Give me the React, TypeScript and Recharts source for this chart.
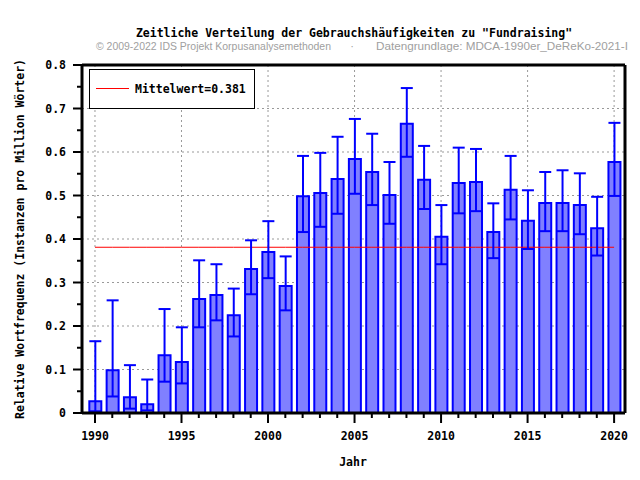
import React from "react";
import {
  Bar,
  CartesianGrid,
  ComposedChart,
  ErrorBar,
  Line,
  ReferenceLine,
  XAxis,
  YAxis,
} from "recharts";

// years shown on the x axis (one bar each)
const years = [
  1990, 1991, 1992, 1993, 1994, 1995, 1996, 1997, 1998, 1999, 2000, 2001, 2002,
  2003, 2004, 2005, 2006, 2007, 2008, 2009, 2010, 2011, 2012, 2013, 2014, 2015,
  2016, 2017, 2018, 2019, 2020,
];

// relative frequency per million words
const freq = [
  0.027, 0.098, 0.036, 0.02, 0.133, 0.117, 0.262, 0.271, 0.225, 0.331, 0.37,
  0.292, 0.498, 0.506, 0.538, 0.584, 0.554, 0.501, 0.665, 0.536, 0.405, 0.529,
  0.531, 0.416, 0.513, 0.442, 0.483, 0.483, 0.478, 0.425, 0.577,
];

// confidence interval bounds
const ciHigh = [
  0.165, 0.259, 0.11, 0.077, 0.239, 0.197, 0.351, 0.342, 0.286, 0.397, 0.441,
  0.36, 0.591, 0.598, 0.635, 0.676, 0.642, 0.577, 0.747, 0.614, 0.478, 0.61,
  0.607, 0.482, 0.591, 0.512, 0.554, 0.558, 0.551, 0.497, 0.667,
];
const ciLow = [
  0.004, 0.038, 0.01, 0.006, 0.072, 0.068, 0.197, 0.213, 0.176, 0.273, 0.31,
  0.236, 0.416, 0.428, 0.458, 0.504, 0.478, 0.435, 0.589, 0.469, 0.342, 0.459,
  0.464, 0.356, 0.445, 0.377, 0.418, 0.418, 0.411, 0.362, 0.499,
];

const meanValue = 0.381;

const majorYears = [1990, 1995, 2000, 2005, 2010, 2015, 2020];
const yTicks = [
  0, 0.05, 0.1, 0.15, 0.2, 0.25, 0.3, 0.35, 0.4, 0.45, 0.5, 0.55, 0.6, 0.65,
  0.7, 0.75, 0.8,
];
const yGrid = [0.1, 0.2, 0.3, 0.4, 0.5, 0.6, 0.7];

const xDomain = [1989.25, 2020.63];
const yDomain = [0, 0.8];

const data = years.map((year, i) => ({
  year,
  freq: freq[i],
  err: [freq[i] - ciLow[i], ciHigh[i] - freq[i]],
  mean: meanValue,
}));

const MONO = "'DejaVu Sans Mono', monospace";
const BLUE = "#0000ff";

const XTick = (props: any) => {
  const { x, y, payload } = props;
  const major = payload.value % 5 === 0;
  return (
    <g>
      <line x1={x} x2={x} y1={y} y2={y + (major ? 10 : 5)} stroke="#000" strokeWidth={2} />
      {major && (
        <text
          x={x}
          y={y + 27}
          textAnchor="middle"
          fontFamily={MONO}
          fontWeight="bold"
          fontSize={11.5}
          fill="#000"
        >
          {payload.value}
        </text>
      )}
    </g>
  );
};

const YTick = (props: any) => {
  const { x, y, payload } = props;
  const v = Math.round(payload.value * 100);
  const major = v % 10 === 0;
  return (
    <g>
      <line x1={x} x2={x - (major ? 9 : 5)} y1={y} y2={y} stroke="#000" strokeWidth={2} />
      {major && (
        <text
          x={x - 16}
          y={y + 4}
          textAnchor="end"
          fontFamily={MONO}
          fontWeight="bold"
          fontSize={11.5}
          fill="#000"
        >
          {v === 0 ? "0" : (v / 100).toFixed(1)}
        </text>
      )}
    </g>
  );
};

export default function App() {
  return (
    <div style={{ position: "absolute", left: 0, top: 0, width: 640, height: 480, background: "#fff" }}>
      <ComposedChart
        width={640}
        height={480}
        data={data}
        margin={{ top: 65, right: 15, bottom: 37, left: 0 }}
      >
        <CartesianGrid
          stroke="#999"
          strokeDasharray="2 3"
          verticalValues={majorYears}
          horizontalValues={yGrid}
        />
        <XAxis
          dataKey="year"
          type="number"
          domain={xDomain}
          ticks={years}
          interval={0}
          height={30}
          tickSize={0}
          tickMargin={0}
          tickLine={false}
          axisLine={{ stroke: "#000", strokeWidth: 3 }}
          tick={<XTick />}
          allowDataOverflow
        />
        <YAxis
          type="number"
          domain={yDomain}
          ticks={yTicks}
          interval={0}
          width={82}
          tickSize={0}
          tickMargin={0}
          tickLine={false}
          axisLine={{ stroke: "#000", strokeWidth: 3 }}
          tick={<YTick />}
          allowDataOverflow
        />
        <ReferenceLine y={0.8} stroke="#000" strokeWidth={3} />
        <ReferenceLine x={xDomain[1]} stroke="#000" strokeWidth={3} />
        <Line
          dataKey="mean"
          stroke="#ff0000"
          strokeWidth={1}
          dot={false}
          activeDot={false}
          isAnimationActive={false}
        />
        <Bar
          dataKey="freq"
          barSize={12}
          fill="#8080ff"
          stroke={BLUE}
          strokeWidth={2}
          isAnimationActive={false}
        >
          <ErrorBar dataKey="err" width={6} stroke={BLUE} strokeWidth={2} />
        </Bar>
      </ComposedChart>

      {/* titles, axis labels and legend box */}
      <svg
        width={640}
        height={480}
        style={{ position: "absolute", left: 0, top: 0, pointerEvents: "none" }}
      >
        <text x={354} y={37} textAnchor="middle" fontFamily={MONO} fontWeight="bold" fontSize={11.5} fill="#000">
          Zeitliche Verteilung der Gebrauchshäufigkeiten zu "Fundraising"
        </text>
        <text x={96} y={50} fontFamily="'Liberation Sans Narrow', 'Liberation Sans', sans-serif" fontSize={11} fill="#a0a0a0" textLength={235} lengthAdjust="spacingAndGlyphs">
          © 2009-2022 IDS Projekt Korpusanalysemethoden
        </text>
        <text x={352} y={50} textAnchor="middle" fontFamily="'Liberation Sans', sans-serif" fontSize={11} fill="#a0a0a0">
          ·
        </text>
        <text x={376} y={50} fontFamily="'Liberation Sans Narrow', 'Liberation Sans', sans-serif" fontSize={11} fill="#a0a0a0" textLength={252} lengthAdjust="spacingAndGlyphs">
          Datengrundlage: MDCA-1990er_DeReKo-2021-I
        </text>
        <text x={353} y={466} textAnchor="middle" fontFamily={MONO} fontWeight="bold" fontSize={11.5} fill="#000">
          Jahr
        </text>
        <text
          x={24}
          y={239}
          transform="rotate(-90 24 239)"
          textAnchor="middle"
          fontFamily={MONO}
          fontWeight="bold"
          fontSize={11.5}
          fill="#000"
        >
          Relative Wortfrequenz (Instanzen pro Million Wörter)
        </text>
        <rect x={89.5} y={69.5} width={165} height={39} fill="#fff" stroke="#000" strokeWidth={1} />
        <line x1={96} x2={129} y1={88.5} y2={88.5} stroke="#ff0000" strokeWidth={1} />
        <text x={135} y={93} fontFamily={MONO} fontWeight="bold" fontSize={11.5} fill="#000">
          Mittelwert=0.381
        </text>
      </svg>
    </div>
  );
}
